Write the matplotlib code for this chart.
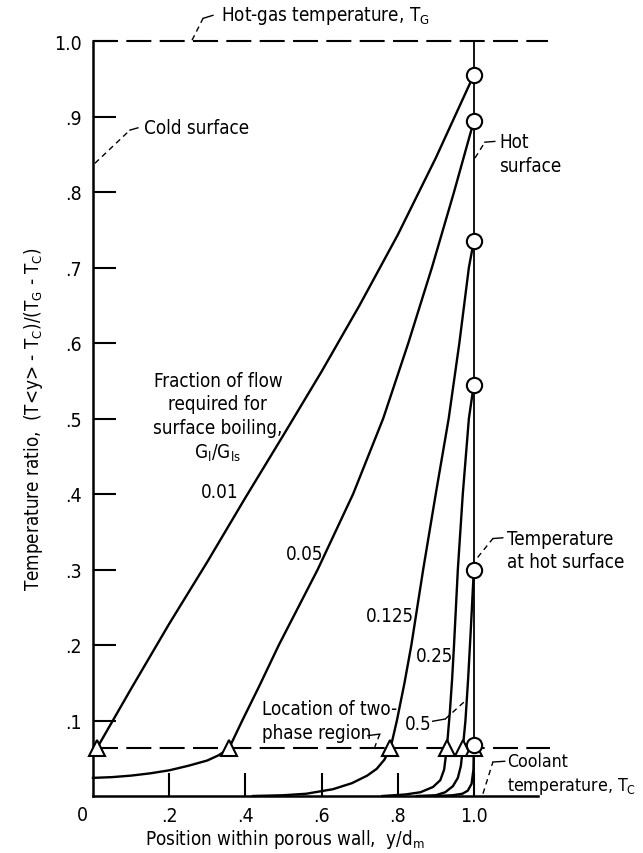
import matplotlib
matplotlib.use("Agg")
import matplotlib.pyplot as plt
from matplotlib import font_manager

# prefer a narrow face; the DejaVu condensed cut if present, else shrink
_fonts = font_manager.fontManager.ttflist
if any(f.name == "Liberation Sans Narrow" for f in _fonts):
    plt.rcParams["font.family"] = ["Liberation Sans Narrow", "DejaVu Sans"]
    FS = 14.5
elif any(f.name == "DejaVu Sans" and f.stretch == "condensed" for f in _fonts):
    plt.rcParams["font.family"] = ["DejaVu Sans"]
    plt.rcParams["font.stretch"] = "condensed"
    FS = 13.5
else:
    plt.rcParams["font.family"] = ["DejaVu Sans"]
    FS = 12
plt.rcParams["mathtext.default"] = "regular"

# temperature profiles through the porous wall, one per flow fraction G_l/G_ls
curve_001_x = [0.01, 0.1, 0.2, 0.3, 0.4, 0.5, 0.6, 0.7, 0.8, 0.9, 1.0]
curve_001_y = [0.063, 0.142, 0.228, 0.31, 0.395, 0.478, 0.562, 0.65, 0.743,
               0.845, 0.955]

curve_005_x = [0.0, 0.05, 0.1, 0.15, 0.2, 0.25, 0.3, 0.33, 0.357, 0.392, 0.436,
               0.488, 0.59, 0.683, 0.762, 0.828, 0.89, 0.948, 1.0]
curve_005_y = [0.024, 0.025, 0.027, 0.030, 0.034, 0.040, 0.047, 0.054, 0.063,
               0.1, 0.145, 0.2, 0.3, 0.4, 0.5, 0.6, 0.7, 0.8, 0.894]

curve_0125_x = [0.42, 0.5, 0.56, 0.63, 0.68, 0.72, 0.745, 0.765, 0.781, 0.798,
                0.818, 0.836, 0.867, 0.9, 0.934, 0.962, 0.987, 1.0]
curve_0125_y = [0.0, 0.001, 0.003, 0.009, 0.017, 0.027, 0.036, 0.048, 0.063,
                0.1, 0.15, 0.2, 0.3, 0.4, 0.5, 0.6, 0.7, 0.735]

curve_025_x = [0.76, 0.82, 0.86, 0.893, 0.912, 0.922, 0.929, 0.937, 0.943,
               0.948, 0.958, 0.971, 0.987, 1.0]
curve_025_y = [0.0, 0.002, 0.005, 0.012, 0.021, 0.035, 0.063, 0.111, 0.155,
               0.2, 0.3, 0.4, 0.5, 0.545]

curve_05_x = [0.85, 0.9, 0.925, 0.945, 0.958, 0.966, 0.971, 0.978, 0.985,
              0.992, 1.0]
curve_05_y = [0.0, 0.001, 0.005, 0.013, 0.024, 0.040, 0.063, 0.1, 0.155,
              0.22, 0.30]

curve_1_x = [0.9, 0.945, 0.97, 0.984, 0.994, 0.999, 1.0]
curve_1_y = [0.0, 0.001, 0.003, 0.007, 0.016, 0.035, 0.068]

# onset of the two-phase region (triangles) and hot-surface temperature (circles)
two_phase_y = 0.063
two_phase_x = [0.01, 0.357, 0.781, 0.929, 0.971, 1.0]
hot_surface_y = [0.955, 0.894, 0.735, 0.545, 0.30, 0.068]

curves = [
    (curve_001_x, curve_001_y),
    (curve_005_x, curve_005_y),
    (curve_0125_x, curve_0125_y),
    (curve_025_x, curve_025_y),
    (curve_05_x, curve_05_y),
    (curve_1_x, curve_1_y),
]

y_ticks = [0.1, 0.2, 0.3, 0.4, 0.5, 0.6, 0.7, 0.8, 0.9, 1.0]
y_tick_labels = [".1", ".2", ".3", ".4", ".5", ".6", ".7", ".8", ".9", "1.0"]
x_ticks = [0.2, 0.4, 0.6, 0.8, 1.0]
x_tick_labels = [".2", ".4", ".6", ".8", "1.0"]

fig = plt.figure(figsize=(6.43, 8.54), dpi=100)
ax = fig.add_axes([93 / 643, 57 / 854, 457 / 643, 755 / 854])
ax.set_xlim(0, 1.2)
ax.set_ylim(0, 1.0)

for s in ("top", "right"):
    ax.spines[s].set_visible(False)
ax.spines["left"].set_linewidth(1.8)
ax.spines["bottom"].set_linewidth(1.8)
ax.spines["bottom"].set_bounds(0, 1.168)

ax.set_yticks(y_ticks)
ax.set_yticklabels(y_tick_labels)
ax.set_xticks(x_ticks)
ax.set_xticklabels(x_tick_labels)
ax.tick_params(axis="both", direction="in", length=16.5, width=1.5,
               labelsize=FS + 0.5)
ax.tick_params(axis="y", pad=8)
ax.tick_params(axis="x", pad=7)
ax.text(-0.029, -0.024, "0", fontsize=FS + 0.5, ha="center", va="center",
        clip_on=False)

# hot-gas and coolant reference lines, plus the hot surface itself
dash = (0, (12, 4))
ax.plot([0, 1.195], [1.0, 1.0], color="black", lw=1.5, ls=dash, clip_on=False)
ax.plot([0, 1.2], [two_phase_y, two_phase_y], color="black", lw=1.5, ls=dash,
        clip_on=False)
ax.plot([1.0, 1.0], [0, 1.0], color="black", lw=1.3, clip_on=False)

for xs, ys in curves:
    ax.plot(xs, ys, color="black", lw=1.7, solid_joinstyle="round",
            clip_on=False)

ax.plot(two_phase_x, [two_phase_y] * len(two_phase_x), ls="none", marker="^",
        ms=11, mfc="white", mec="black", mew=1.5, zorder=5, clip_on=False)
ax.plot([1.0] * len(hot_surface_y), hot_surface_y, ls="none", marker="o",
        ms=11, mfc="white", mec="black", mew=1.5, zorder=5, clip_on=False)

ax.set_ylabel(r"Temperature ratio,  (T<y> - T$_C$)/(T$_G$ - T$_C$)",
              fontsize=FS)
ax.yaxis.set_label_coords(-0.104, 0.5)
ax.set_xlabel(r"Position within porous wall,  y/d$_m$", fontsize=FS)
ax.xaxis.set_label_coords(0.42, -0.041)

leader = dict(color="black", lw=1.0, ls=(0, (4, 3)), clip_on=False)
solid_leader = dict(color="black", lw=1.0, clip_on=False)


def callout(pts, text_xy, text, size=FS):
    xs = [p[0] for p in pts]
    ys = [p[1] for p in pts]
    ax.plot(xs[:-1], ys[:-1], **leader)
    ax.plot(xs[-2:], ys[-2:], **solid_leader)
    ax.text(text_xy[0], text_xy[1], text, fontsize=size, va="center",
            ha="left", linespacing=1.3)


callout([(0.26, 1.001), (0.289, 1.030), (0.315, 1.034)], (0.336, 1.034),
        r"Hot-gas temperature, T$_G$")
callout([(0.005, 0.838), (0.097, 0.882), (0.118, 0.885)], (0.134, 0.885),
        "Cold surface")
callout([(1.003, 0.845), (1.029, 0.866), (1.055, 0.867)], (1.066, 0.851),
        "Hot\nsurface")
callout([(1.01, 0.316), (1.05, 0.341), (1.076, 0.342)], (1.086, 0.326),
        "Temperature\nat hot surface")
callout([(1.024, 0.003), (1.05, 0.045), (1.081, 0.046)], (1.088, 0.029),
        "Coolant\ntemperature, T$_C$", size=FS - 0.8)

ax.text(0.328, 0.502,
        "Fraction of flow\nrequired for\nsurface boiling,\nG$_l$/G$_{ls}$",
        fontsize=FS, ha="center", va="center", linespacing=1.3)
ax.text(0.333, 0.403, "0.01", fontsize=FS, ha="center", va="center")
ax.text(0.556, 0.321, "0.05", fontsize=FS, ha="center", va="center")
ax.text(0.78, 0.239, "0.125", fontsize=FS, ha="center", va="center")
ax.text(0.898, 0.186, "0.25", fontsize=FS, ha="center", va="center")
ax.text(0.853, 0.096, "0.5", fontsize=FS, ha="center", va="center")
ax.plot([0.892, 0.925], [0.099, 0.102], **solid_leader)
ax.plot([0.925, 0.982], [0.102, 0.128], **leader)

ax.text(0.444, 0.100, "Location of two-\nphase region", fontsize=FS,
        ha="left", va="center", linespacing=1.3)
ax.plot([0.722, 0.753], [0.080, 0.082], **solid_leader)
ax.plot([0.753, 0.74], [0.082, 0.065], **leader)

fig.savefig("out.png", dpi=100)
